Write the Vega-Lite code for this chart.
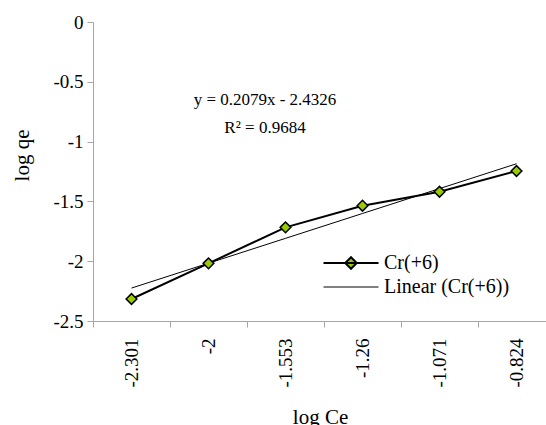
{
  "$schema": "https://vega.github.io/schema/vega-lite/v6.json",
  "width": 453,
  "height": 299,
  "autosize": {"type": "none"},
  "padding": {"left": 93, "top": 22, "right": 0, "bottom": 104},
  "background": "white",
  "config": {
    "view": {"stroke": null},
    "font": "Liberation Serif",
    "axis": {
      "grid": false,
      "domainColor": "#a6a6a6",
      "tickColor": "#a6a6a6",
      "labelColor": "black",
      "titleColor": "black",
      "labelFont": "Liberation Serif",
      "titleFont": "Liberation Serif",
      "titleFontWeight": "normal",
      "labelFontSize": 19,
      "titleFontSize": 21
    }
  },
  "data": {
    "values": [
      {"logCe": "-2.301", "value": -2.316, "series": "Cr(+6)"},
      {"logCe": "-2", "value": -2.018, "series": "Cr(+6)"},
      {"logCe": "-1.553", "value": -1.717, "series": "Cr(+6)"},
      {"logCe": "-1.26", "value": -1.536, "series": "Cr(+6)"},
      {"logCe": "-1.071", "value": -1.419, "series": "Cr(+6)"},
      {"logCe": "-0.824", "value": -1.246, "series": "Cr(+6)"},
      {"logCe": "-2.301", "value": -2.2247, "series": "Linear (Cr(+6))"},
      {"logCe": "-2", "value": -2.0168, "series": "Linear (Cr(+6))"},
      {"logCe": "-1.553", "value": -1.8089, "series": "Linear (Cr(+6))"},
      {"logCe": "-1.26", "value": -1.6010, "series": "Linear (Cr(+6))"},
      {"logCe": "-1.071", "value": -1.3931, "series": "Linear (Cr(+6))"},
      {"logCe": "-0.824", "value": -1.1852, "series": "Linear (Cr(+6))"}
    ]
  },
  "encoding": {
    "x": {
      "field": "logCe",
      "type": "ordinal",
      "sort": null,
      "scale": {
        "type": "band",
        "domain": ["-2.301", "-2", "-1.553", "-1.26", "-1.071", "-0.824"],
        "range": [0, 462],
        "paddingInner": 0,
        "paddingOuter": 0
      },
      "axis": {
        "title": "log Ce",
        "labelFont": "Liberation Serif",
        "labelFontSize": 19,
        "titleFont": "Liberation Serif",
        "titleFontSize": 21,
        "labelAngle": 270,
        "labelAlign": "right",
        "labelBaseline": "middle",
        "tickBand": "extent",
        "tickSize": 6,
        "labelPadding": 11,
        "titleX": 227,
        "titleY": 102,
        "titleBaseline": "alphabetic",
        "titleAlign": "center"
      }
    },
    "y": {
      "field": "value",
      "type": "quantitative",
      "scale": {"domain": [-2.5, 0], "nice": false, "zero": false},
      "axis": {
        "title": "log qe",
        "labelFont": "Liberation Serif",
        "labelFontSize": 19,
        "titleFont": "Liberation Serif",
        "titleFontSize": 21,
        "values": [0, -0.5, -1, -1.5, -2, -2.5],
        "labelExpr": "replace(format(datum.value, '~g'), '\u2212', '-')",
        "tickSize": 6,
        "labelPadding": 4,
        "titleX": -71,
        "titleY": 133,
        "titleAngle": 270,
        "titleBaseline": "middle",
        "titleAlign": "center"
      }
    }
  },
  "layer": [
    {
      "mark": {"type": "line", "color": "black"},
      "encoding": {
        "strokeWidth": {
          "field": "series",
          "type": "ordinal",
          "scale": {"domain": ["Cr(+6)", "Linear (Cr(+6))"], "range": [2, 1]},
          "legend": {
            "title": null,
            "orient": "none",
            "legendX": 248,
            "legendY": 231,
            "labelFont": "Liberation Serif",
            "labelFontSize": 20,
            "labelColor": "black",
            "labelOffset": 23,
            "symbolSize": 100,
            "rowPadding": 4,
            "symbolType": {"expr": "datum.value === 'Cr(+6)' ? 'M-5.5,0H5.5M0,-1.15L1.15,0L0,1.15L-1.15,0Z' : 'M-5.5,0H5.5'"},
            "symbolFillColor": {"expr": "datum.value === 'Cr(+6)' ? '#99cc00' : 'transparent'"},
            "symbolStrokeColor": "black",
            "symbolOpacity": 1
          }
        }
      }
    },
    {
      "transform": [{"filter": "datum.series === 'Cr(+6)'"}],
      "mark": {
        "type": "point",
        "shape": "diamond",
        "filled": true,
        "fill": "#99cc00",
        "stroke": "black",
        "strokeWidth": 1.5,
        "size": 115,
        "opacity": 1
      }
    },
    {
      "data": {
        "values": [
          {"logCe": "-1.553", "value": -0.652, "label": "y = 0.2079x - 2.4326"},
          {"logCe": "-1.553", "value": -0.886, "label": "R² = 0.9684"}
        ]
      },
      "mark": {
        "type": "text",
        "font": "Liberation Serif",
        "fontSize": 17,
        "color": "black",
        "align": "center",
        "baseline": "middle",
        "dx": -20.5
      },
      "encoding": {
        "text": {"field": "label"}
      }
    }
  ]
}
